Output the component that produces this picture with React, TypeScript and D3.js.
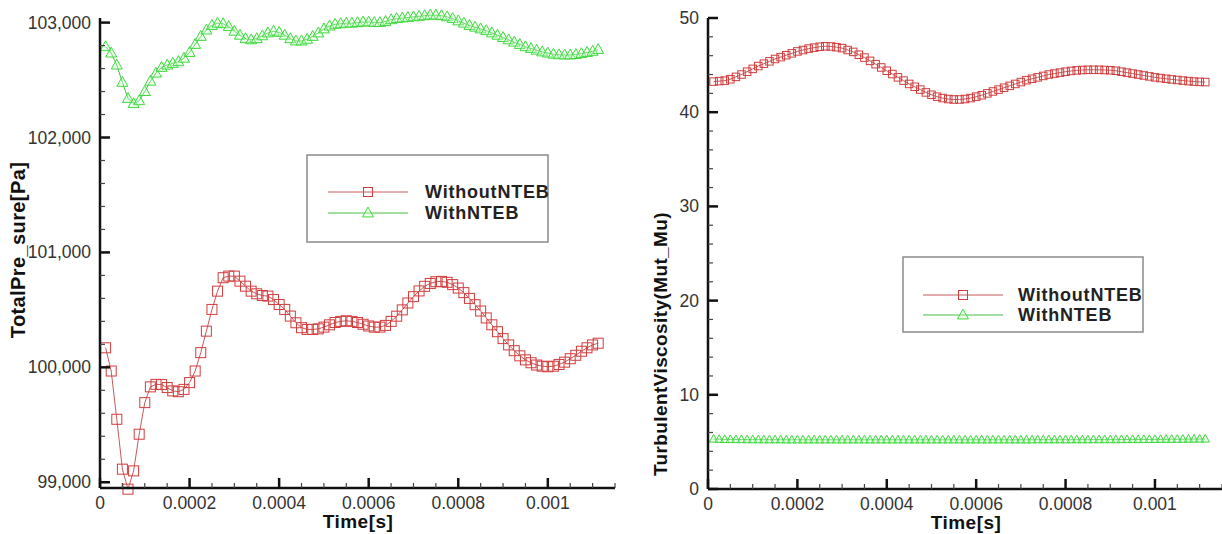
import React from "react";
import * as d3 from "d3";

// time in microseconds
const TIME_US = [12.5,25,37.5,50,62.5,75,87.5,100,112.5,125,137.5,150,162.5,175,187.5,200,212.5,225,237.5,250,262.5,275,287.5,300,312.5,325,337.5,350,362.5,375,387.5,400,412.5,425,437.5,450,462.5,475,487.5,500,512.5,525,537.5,550,562.5,575,587.5,600,612.5,625,637.5,650,662.5,675,687.5,700,712.5,725,737.5,750,762.5,775,787.5,800,812.5,825,837.5,850,862.5,875,887.5,900,912.5,925,937.5,950,962.5,975,987.5,1000,1012.5,1025,1037.5,1050,1062.5,1075,1087.5,1100,1112.5];

const PRESSURE_WITHOUT = [100170,99968,99548,99114,98940,99099,99418,99693,99830,99852,
99850,99824,99795,99788,99808,99867,99968,100128,100315,100504,
100663,100780,100794,100794,100750,100706,100663,100640,100625,100620,
100590,100547,100504,100446,100388,100345,100330,100330,100335,100350,
100370,100390,100400,100405,100400,100390,100375,100360,100350,100350,
100365,100400,100445,100500,100560,100615,100665,100705,100730,100745,
100748,100740,100720,100690,100650,100600,100545,100490,100430,100370,
100310,100250,100195,100145,100100,100065,100040,100020,100010,100005,
100010,100025,100045,100075,100105,100140,100170,100195,100210];

const PRESSURE_WITH = [102790,102735,102630,102480,102340,102295,102320,102400,102490,102560,
102610,102630,102645,102660,102690,102740,102810,102880,102935,102975,
102995,102990,102965,102925,102890,102860,102850,102860,102885,102910,
102925,102915,102890,102860,102840,102840,102855,102880,102910,102945,
102970,102985,102990,102995,102995,103000,103005,103005,103000,103000,
103010,103025,103035,103040,103045,103050,103055,103060,103065,103065,
103060,103050,103035,103015,102995,102975,102960,102945,102930,102910,
102890,102870,102850,102830,102810,102790,102775,102760,102745,102735,
102725,102720,102718,102718,102722,102730,102740,102750,102765];

const VISC_WITHOUT = [43.25,43.3,43.35,43.5,43.75,44.0,44.3,44.6,44.9,45.15,
45.4,45.65,45.85,46.05,46.25,46.45,46.6,46.75,46.85,46.95,
47.0,46.98,46.9,46.8,46.6,46.4,46.1,45.8,45.45,45.1,
44.75,44.4,44.05,43.7,43.35,43.0,42.7,42.4,42.1,41.85,
41.65,41.5,41.4,41.35,41.35,41.4,41.5,41.65,41.8,42.0,
42.2,42.4,42.6,42.8,43.0,43.2,43.4,43.55,43.7,43.85,
44.0,44.1,44.2,44.3,44.38,44.44,44.48,44.5,44.5,44.5,
44.48,44.45,44.4,44.3,44.2,44.1,44.0,43.9,43.8,43.7,
43.62,43.55,43.48,43.42,43.36,43.3,43.25,43.22,43.2];

const VISC_WITH = [5.3,5.28,5.26,5.25,5.25,5.24,5.24,5.24,5.23,5.23,
5.23,5.23,5.23,5.22,5.22,5.22,5.22,5.22,5.22,5.22,
5.22,5.22,5.22,5.22,5.22,5.22,5.22,5.22,5.22,5.22,
5.22,5.22,5.22,5.22,5.22,5.22,5.22,5.22,5.22,5.22,
5.22,5.22,5.22,5.22,5.22,5.22,5.22,5.22,5.22,5.22,
5.22,5.22,5.22,5.22,5.22,5.22,5.22,5.22,5.23,5.23,
5.23,5.23,5.23,5.23,5.23,5.23,5.23,5.23,5.24,5.24,
5.24,5.24,5.24,5.25,5.25,5.25,5.25,5.26,5.26,5.26,
5.27,5.27,5.28,5.28,5.29,5.29,5.3,5.3,5.31];

const SERIES_NAMES = ["WithoutNTEB", "WithNTEB"];
const X_TICKS = [0, 0.0002, 0.0004, 0.0006, 0.0008, 0.001];
const X_TICK_LABELS = ["0", "0.0002", "0.0004", "0.0006", "0.0008", "0.001"];
const P_TICKS = [99000, 100000, 101000, 102000, 103000];
const V_TICKS = [0, 10, 20, 30, 40, 50];

const RED = "#d23c3c";
const RED_LINE = "#c85a5a";
const GREEN = "#3fd93f";
const GREEN_LINE = "#45c045";
const FONT = "'Liberation Sans', Arial, sans-serif";

type PanelProps = {
  x0: number; x1: number; yTop: number; yBot: number;
  yDomain: [number, number];
  yTicks: number[]; yMinorStep: number; yFmt: (v: number) => string;
  series: number[][];
  markerSize: number[];
  yLabel: string; yLabelX: number; yLabelY: number; yLabelSize: number;
  xLabelX: number;
  legend: { x: number; y: number; w: number; h: number; row1: number; row2: number; lx0: number; lx1: number; tx: number };
};

function Square({ cx, cy, s }: { cx: number; cy: number; s: number }) {
  return <rect x={cx - s / 2} y={cy - s / 2} width={s} height={s} fill="none" stroke={RED} strokeWidth={1} />;
}
function Tri({ cx, cy, s }: { cx: number; cy: number; s: number }) {
  const h = s * 0.9;
  const p = `${cx},${cy - h * 0.6} ${cx - s / 2},${cy + h * 0.4} ${cx + s / 2},${cy + h * 0.4}`;
  return <polygon points={p} fill="rgba(200,255,200,0.35)" stroke={GREEN} strokeWidth={1} />;
}

function Panel(p: PanelProps) {
  const x = d3.scaleLinear().domain([0, 0.00115]).range([p.x0, p.x1]);
  const y = d3.scaleLinear().domain(p.yDomain).range([p.yBot, p.yTop]);
  const t = TIME_US.map((v) => v * 1e-6);
  const line = d3.line<number>().x((_, i) => x(t[i])).y((v) => y(v));
  const xMinor = d3.range(0, 0.00115 + 1e-9, 0.00005).filter((v) => Math.abs(v / 0.0002 - Math.round(v / 0.0002)) > 1e-6);
  const yMinor = d3.range(p.yTicks[0], p.yTicks[p.yTicks.length - 1] + 1e-9, p.yMinorStep).filter((v) => !p.yTicks.some((m) => Math.abs(m - v) < 1e-6));
  const L = p.legend;
  return (
    <g>
      <path d={line(p.series[0]) || ""} fill="none" stroke={RED_LINE} strokeWidth={1} />
      {p.series[0].map((v, i) => <Square key={"s" + i} cx={x(t[i])} cy={y(v)} s={p.markerSize[0]} />)}
      <path d={line(p.series[1]) || ""} fill="none" stroke={GREEN_LINE} strokeWidth={1} />
      {p.series[1].map((v, i) => <Tri key={"t" + i} cx={x(t[i])} cy={y(v)} s={p.markerSize[1]} />)}
      <line x1={p.x0} x2={p.x1} y1={p.yBot} y2={p.yBot} stroke="#111" strokeWidth={2.5} />
      <line x1={p.x0} x2={p.x0} y1={p.yTop} y2={p.yBot} stroke="#111" strokeWidth={2.5} />
      {X_TICKS.map((v, i) => (
        <g key={"xt" + i}>
          <line x1={x(v)} x2={x(v)} y1={p.yBot} y2={p.yBot - 10} stroke="#111" strokeWidth={2.5} />
          <text x={x(v)} y={p.yBot + 21} textAnchor="middle" fontFamily={FONT} fontSize={17.5} fill="#333">{X_TICK_LABELS[i]}</text>
        </g>
      ))}
      {xMinor.map((v, i) => (
        <line key={"xm" + i} x1={x(v)} x2={x(v)} y1={p.yBot} y2={p.yBot - 5} stroke="#444" strokeWidth={1.2} />
      ))}
      {p.yTicks.map((v, i) => (
        <g key={"yt" + i}>
          <line x1={p.x0} x2={p.x0 + 10} y1={y(v)} y2={y(v)} stroke="#111" strokeWidth={2.5} />
          <text x={p.x0 - 9} y={y(v) + 6} textAnchor="end" fontFamily={FONT} fontSize={17.5} fill="#333">{p.yFmt(v)}</text>
        </g>
      ))}
      {yMinor.map((v, i) => (
        <line key={"ym" + i} x1={p.x0} x2={p.x0 + 5} y1={y(v)} y2={y(v)} stroke="#444" strokeWidth={1.2} />
      ))}
      <text x={p.xLabelX} y={p.yBot + 40} textAnchor="middle" fontFamily={FONT} fontWeight="bold" fontSize={19} letterSpacing={0.5} fill="#111">Time[s]</text>
      <text transform={`translate(${p.yLabelX},${p.yLabelY}) rotate(-90)`} textAnchor="middle" fontFamily={FONT} fontWeight="bold" fontSize={p.yLabelSize} letterSpacing={0.4} fill="#111">{p.yLabel}</text>
      <rect x={L.x} y={L.y} width={L.w} height={L.h} fill="#fff" stroke="#8a8a8a" strokeWidth={1.5} />
      <line x1={L.lx0} x2={L.lx1} y1={L.row1} y2={L.row1} stroke={RED_LINE} strokeWidth={1} />
      <Square cx={(L.lx0 + L.lx1) / 2} cy={L.row1} s={9} />
      <line x1={L.lx0} x2={L.lx1} y1={L.row2} y2={L.row2} stroke={GREEN_LINE} strokeWidth={1} />
      <Tri cx={(L.lx0 + L.lx1) / 2} cy={L.row2} s={11} />
      <text x={L.tx} y={L.row1 + 6} fontFamily={FONT} fontWeight="bold" fontSize={18} letterSpacing={0.8} fill="#222">{SERIES_NAMES[0]}</text>
      <text x={L.tx} y={L.row2 + 6} fontFamily={FONT} fontWeight="bold" fontSize={18} letterSpacing={0.8} fill="#222">{SERIES_NAMES[1]}</text>
    </g>
  );
}

export default function App() {
  const fmtP = d3.format(",");
  return (
    <svg width={1222} height={534} style={{ position: "absolute", left: 0, top: 0, display: "block", background: "#fff" }}>
      <Panel
        x0={100} x1={615} yTop={18} yBot={488}
        yDomain={[98950, 103040]}
        yTicks={P_TICKS} yMinorStep={200} yFmt={(v) => fmtP(v)}
        series={[PRESSURE_WITHOUT, PRESSURE_WITH]}
        markerSize={[10, 11]}
        yLabel="TotalPre_sure[Pa]" yLabelX={25} yLabelY={250} yLabelSize={20}
        xLabelX={358}
        legend={{ x: 307, y: 155, w: 241, h: 87, row1: 192, row2: 213, lx0: 328, lx1: 408, tx: 425 }}
      />
      <Panel
        x0={708} x1={1222} yTop={18} yBot={489}
        yDomain={[0, 50]}
        yTicks={V_TICKS} yMinorStep={2} yFmt={(v) => String(v)}
        series={[VISC_WITHOUT, VISC_WITH]}
        markerSize={[7.5, 8.5]}
        yLabel="TurbulentViscosity(Mut_Mu)" yLabelX={667} yLabelY={344} yLabelSize={19}
        xLabelX={966}
        legend={{ x: 903, y: 257, w: 240, h: 75, row1: 295, row2: 315, lx0: 923, lx1: 1003, tx: 1018 }}
      />
    </svg>
  );
}
